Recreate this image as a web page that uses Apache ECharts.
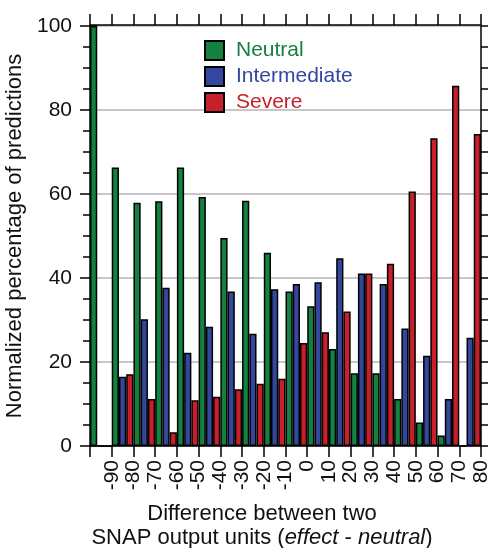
<!DOCTYPE html>
<html>
<head>
<meta charset="utf-8">
<script src="https://cdn.jsdelivr.net/npm/echarts@6/dist/echarts.min.js"></script>
<style>
  html, body { margin: 0; padding: 0; background: #fff; }
  #chart { width: 492px; height: 548px; }
</style>
</head>
<body>
<div id="chart"></div>
<script>
// bins of the difference between the two SNAP outputs
var categories = ['-90', '-80', '-70', '-60', '-50', '-40', '-30', '-20', '-10',
                  '0', '10', '20', '30', '40', '50', '60', '70', '80'];

// normalized percentages
var neutral      = [100, 66.3, 57.9, 58.3, 66.3, 59.3, 49.5, 58.4, 46.0, 36.8, 33.3, 23.1, 17.3, 17.3, 11.2, 5.6, 2.5, 0];
var intermediate = [0, 16.5, 30.2, 37.7, 22.2, 28.4, 36.8, 26.7, 37.3, 38.6, 39.0, 44.7, 41.1, 38.6, 28.0, 21.5, 11.2, 25.8];
var severe       = [0, 17.1, 11.2, 3.3, 10.9, 11.7, 13.5, 14.8, 16.0, 24.5, 27.1, 32.0, 41.1, 43.4, 60.6, 73.3, 85.8, 74.3];

var yMin = 0, yMax = 100, yStep = 20;

var font = 'Liberation Sans, Arial, Helvetica, sans-serif';
var green = '#13813f', blue = '#34479f', red = '#c81f2a';
var frame = { color: '#000', width: 1.5 };

// labels sit on the bin edges, so the bottom axis gets one extra slot
var edgeLabels = [''].concat(categories);

function barSeries(name, data, color) {
	return {
		name: name,
		type: 'bar',
		xAxisIndex: 0,
		yAxisIndex: 0,
		data: data,
		barGap: '0%',
		barCategoryGap: '0%',
		itemStyle: { color: color, borderColor: '#000', borderWidth: 1.5 }
	};
}

var myChart = echarts.init(document.getElementById('chart'), null, { renderer: 'canvas' });
myChart.setOption({
	animation: false,
	textStyle: { fontFamily: font },
	grid: { left: 90, right: 11, top: 26, bottom: 102, outerBoundsMode: 'none' },
	legend: {
		orient: 'vertical',
		left: 204,
		top: 40,
		padding: 0,
		icon: 'rect',
		itemWidth: 19,
		itemHeight: 19,
		itemGap: 5,
		textStyle: { fontSize: 21, fontFamily: font, padding: [0, 0, 0, 7] },
		data: [
			{ name: 'Neutral', textStyle: { color: green } },
			{ name: 'Intermediate', textStyle: { color: blue } },
			{ name: 'Severe', textStyle: { color: red } }
		]
	},
	xAxis: [
		{
			// bars live on this one, drawn as the top frame
			type: 'category',
			data: categories,
			position: 'top',
			offset: 1,
			boundaryGap: true,
			axisLine: { show: true, onZero: false, lineStyle: frame },
			axisTick: { show: true, length: 11, interval: 0, lineStyle: frame },
			axisLabel: { show: false },
			splitLine: { show: false }
		},
		{
			type: 'category',
			data: edgeLabels,
			position: 'bottom',
			boundaryGap: false,
			axisLine: { show: true, onZero: false, lineStyle: frame },
			axisTick: { show: true, length: 11, interval: 0, lineStyle: frame },
			axisLabel: {
				interval: 0,
				rotate: 90,
				margin: 14,
				fontSize: 21,
				color: '#111',
				fontFamily: font,
				padding: [0, 0, 8, 0]
			},
			splitLine: { show: false }
		}
	],
	yAxis: [
		{
			type: 'value',
			position: 'left',
			min: yMin,
			max: yMax,
			interval: yStep,
			name: 'Normalized percentage of predictions',
			nameLocation: 'middle',
			nameGap: 49,
			nameTextStyle: { fontSize: 22, color: '#111', fontFamily: font },
			axisLine: { show: true, onZero: false, lineStyle: frame },
			axisTick: { show: true, length: 10, lineStyle: frame },
			minorTick: { show: true, splitNumber: 4, length: 7, lineStyle: frame },
			axisLabel: { fontSize: 21, color: '#111', margin: 18, fontFamily: font },
			splitLine: { show: true, lineStyle: { color: '#b4b4b4', width: 1.5 } }
		},
		{
			type: 'value',
			position: 'left',
			min: yMin,
			max: yMax,
			interval: yStep,
			axisLine: { show: false, onZero: false },
			axisTick: { show: true, inside: true, length: 7, lineStyle: frame },
			axisLabel: { show: false },
			splitLine: { show: false }
		},
		{
			type: 'value',
			position: 'right',
			min: yMin,
			max: yMax,
			interval: 5,
			axisLine: { show: true, onZero: false, lineStyle: frame },
			axisTick: { show: true, length: 7, lineStyle: frame },
			axisLabel: { show: false },
			splitLine: { show: false }
		}
	],
	graphic: [
		{
			type: 'text',
			x: 262,
			y: 514,
			style: {
				text: 'Difference between two',
				fill: '#111',
				font: '22px ' + font,
				align: 'center',
				verticalAlign: 'middle'
			}
		},
		{
			type: 'text',
			x: 262,
			y: 538,
			style: {
				text: '{n|SNAP output units (}{i|effect}{n| - }{i|neutral}{n|)}',
				fill: '#111',
				align: 'center',
				verticalAlign: 'middle',
				rich: {
					n: { fontSize: 22, fontFamily: font, fill: '#111' },
					i: { fontSize: 22, fontFamily: font, fontStyle: 'italic', fill: '#111' }
				}
			}
		}
	],
	series: [
		barSeries('Neutral', neutral, green),
		barSeries('Intermediate', intermediate, blue),
		barSeries('Severe', severe, red)
	]
});
</script>
</body>
</html>
